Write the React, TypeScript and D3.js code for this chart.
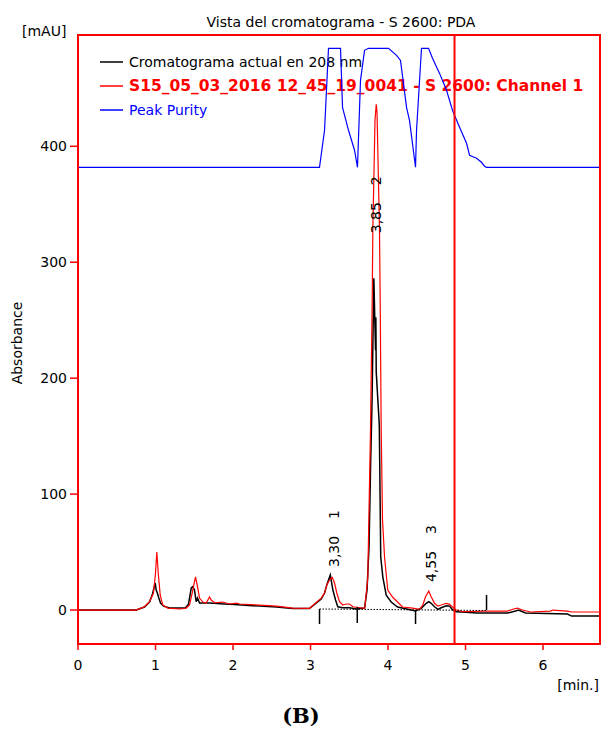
import React from "react";
import * as d3 from "d3";

// ---------- data ----------
const xTicks = [0, 1, 2, 3, 4, 5, 6];
const yTicks = [0, 100, 200, 300, 400];
const timeDomain = [0, 6.735];
const absDomain = [-29.3, 496];

// Black: "Cromatograma actual en 208 nm"
const blackTimes = [0, 0.751, 0.858, 0.923, 0.961, 0.996, 1.009, 1.019, 1.043, 1.065, 1.103, 1.181, 1.387, 1.426, 1.461, 1.481, 1.503, 1.525, 1.542, 1.568, 1.697, 1.89, 2.019, 2.342, 2.561, 2.768, 2.987, 3.138, 3.181, 3.21, 3.255, 3.289, 3.323, 3.352, 3.417, 3.503, 3.59, 3.697, 3.729, 3.755, 3.774, 3.794, 3.813, 3.817, 3.839, 3.843, 3.848, 3.884, 3.888, 3.906, 3.933, 3.977, 4.041, 4.123, 4.299, 4.355, 4.428, 4.493, 4.526, 4.557, 4.6, 4.643, 4.686, 4.751, 4.794, 4.828, 4.88, 5.009, 5.142, 5.542, 5.645, 5.684, 5.774, 6.316, 6.368, 6.735];
const blackValues = [0, 0, 2.6, 6.9, 13.8, 23.3, 17.2, 15.5, 10.3, 6.0, 3.4, 1.7, 1.7, 5.2, 19.0, 20.1, 17.2, 7.2, 10.3, 6.0, 6.0, 5.2, 4.7, 3.4, 2.6, 1.3, 1.3, 9.5, 14.7, 21.6, 30.2, 17.2, 8.6, 2.8, 2.0, 2.0, 0.9, 1.7, 17.2, 54.3, 120.7, 181.0, 267.2, 286.2, 224.1, 252.6, 205.2, 163.8, 157.8, 45.7, 28.4, 12.9, 6.9, 2.6, 0, -0.9, 1.5, 5.8, 7.2, 5.8, 2.8, 0.6, 2.0, 3.7, 3.4, 0.6, -1.5, -2.0, -2.6, -2.6, -0.9, 0, -2.6, -3.4, -5.2, -5.2];

// Red: "S15_05_03_2016 12_45_19_0041 - S 2600: Channel 1"
const redTimes = [0, 0.751, 0.858, 0.923, 0.974, 1.0, 1.017, 1.035, 1.061, 1.094, 1.159, 1.31, 1.396, 1.439, 1.474, 1.499, 1.516, 1.542, 1.568, 1.61, 1.654, 1.697, 1.719, 1.761, 1.865, 1.955, 2.045, 2.084, 2.342, 2.561, 2.768, 2.987, 3.138, 3.181, 3.21, 3.245, 3.28, 3.31, 3.339, 3.374, 3.417, 3.461, 3.503, 3.546, 3.697, 3.703, 3.739, 3.774, 3.796, 3.804, 3.832, 3.848, 3.858, 3.89, 3.899, 3.912, 3.929, 3.955, 3.997, 4.058, 4.123, 4.187, 4.316, 4.406, 4.449, 4.484, 4.526, 4.557, 4.6, 4.643, 4.686, 4.751, 4.794, 4.828, 4.88, 4.965, 5.232, 5.542, 5.619, 5.671, 5.735, 5.839, 6.097, 6.123, 6.316, 6.368, 6.735];
const redValues = [0, 0, 2.8, 7.2, 14.7, 31.9, 50.0, 31.9, 12.9, 4.3, 1.7, 0.9, 1.7, 4.3, 14.7, 23.3, 28.7, 20.1, 10.3, 6.9, 6.0, 11.2, 8.6, 6.3, 6.9, 5.2, 6.0, 5.2, 4.3, 3.4, 1.7, 1.5, 10.3, 14.7, 21.6, 25.9, 28.2, 23.3, 14.7, 7.2, 4.3, 5.2, 5.2, 2.8, 1.5, 3.4, 28.4, 155.2, 267.2, 327.6, 422.4, 436.2, 429.3, 327.6, 267.2, 155.2, 77.6, 45.7, 17.2, 11.2, 6.9, 2.6, 1.7, 0.6, 4.3, 11.5, 16.4, 11.5, 5.8, 3.4, 4.3, 5.8, 4.9, 2.8, 0, -1.5, -0.9, -0.9, 0.9, 1.7, 0, -1.7, -0.9, 0, -0.9, -1.7, -1.7];

// Blue: "Peak Purity"
const purityTimes = [0, 3.116, 3.181, 3.232, 3.387, 3.413, 3.49, 3.568, 3.606, 3.645, 3.697, 3.748, 4.006, 4.11, 4.161, 4.239, 4.277, 4.355, 4.368, 4.432, 4.523, 4.574, 4.665, 4.755, 4.832, 4.923, 5.013, 5.052, 5.142, 5.206, 5.245, 5.271, 6.735];
const purityValues = [381.9, 381.9, 413.8, 484.5, 484.5, 433.6, 413.8, 396.6, 381.9, 456.9, 482.8, 484.5, 484.5, 478.4, 474.1, 433.6, 422.4, 381.9, 413.8, 484.5, 484.5, 475.9, 462.9, 448.3, 431.0, 416.4, 402.6, 392.2, 389.7, 386.2, 382.8, 381.9, 381.9];

// integration markers & baseline
const markerTimes = [3.116, 3.603, 4.355, 5.271];
const markerTops = [0.9, 2.6, 0, 12.9];
const markerBottoms = [-12.1, -11.2, -12.1, 0];
const baselineTimes = [3.116, 5.271];
const baselineValues = [0.9, -0.4];

// peak labels
const peakTimes = [3.3, 3.85, 4.55];
const peakLevels = [37.1, 325, 24.1];
const peakTimeLabels = ["3,30", "3,85", "4,55"];
const peakNumbers = ["1", "2", "3"];

const cursorTime = 4.858;

const legendLabels = [
  "Cromatograma actual en 208 nm",
  "S15_05_03_2016 12_45_19_0041 - S 2600: Channel 1",
  "Peak Purity",
];
const legendColors = ["#000000", "#ff0000", "#0000ff"];

// ---------- layout ----------
const W = 603;
const H = 731;
const left = 78;
const right = 600;
const top = 35;
const bottom = 644;
const FONT = "'DejaVu Sans', Verdana, sans-serif";

export default function App() {
  const x = d3.scaleLinear().domain(timeDomain).range([left, right]);
  const y = d3.scaleLinear().domain(absDomain).range([bottom, top]);
  const line = d3
    .line<[number, number]>()
    .x((d) => x(d[0]))
    .y((d) => y(d[1]));
  const zip = (a: number[], b: number[]) => a.map((t, i) => [t, b[i]] as [number, number]);

  return (
    <svg
      width={W}
      height={H}
      style={{ position: "absolute", left: 0, top: 0, display: "block", background: "#fff" }}
      fontFamily={FONT}
    >
      <rect x={0} y={0} width={W} height={H} fill="#fff" />
      <defs>
        <clipPath id="plot">
          <rect x={left} y={top} width={right - left} height={bottom - top} />
        </clipPath>
      </defs>

      {/* title */}
      <text x={341} y={27} textAnchor="middle" fontSize={14} fill="#000">
        Vista del cromatograma - S 2600: PDA
      </text>
      <text x={22} y={36} fontSize={14} fill="#000">
        [mAU]
      </text>

      {/* legend */}
      {legendLabels.map((lab, i) => (
        <g key={lab}>
          <line x1={100} x2={123} y1={62 + i * 24} y2={62 + i * 24} stroke={legendColors[i]} strokeWidth={1.5} />
          <text
            x={129}
            y={67 + i * 24}
            fontSize={i === 1 ? 15.5 : 14}
            fontWeight={i === 1 ? "bold" : "normal"}
            fill={legendColors[i]}
          >
            {lab}
          </text>
        </g>
      ))}

      <g clipPath="url(#plot)">
        {/* purity */}
        <path d={line(zip(purityTimes, purityValues)) || ""} fill="none" stroke="#0000ff" strokeWidth={1.2} />
        {/* black chromatogram */}
        <path d={line(zip(blackTimes, blackValues)) || ""} fill="none" stroke="#000" strokeWidth={1.5} />
        {/* red chromatogram */}
        <path d={line(zip(redTimes, redValues)) || ""} fill="none" stroke="#ff0000" strokeWidth={1.2} />
        {/* baseline */}
        <path
          d={line(zip(baselineTimes, baselineValues)) || ""}
          fill="none"
          stroke="#000"
          strokeWidth={1}
          strokeDasharray="1.5,1.5"
        />
      </g>
      {/* integration markers */}
      {markerTimes.map((t, i) => (
        <line
          key={"m" + i}
          x1={x(t)}
          x2={x(t)}
          y1={y(markerTops[i])}
          y2={y(markerBottoms[i])}
          stroke="#000"
          strokeWidth={1.5}
        />
      ))}

      {/* peak labels */}
      {peakTimes.map((t, i) => (
        <g key={"p" + i}>
          <text
            transform={`translate(${x(t)},${y(peakLevels[i])}) rotate(-90)`}
            fontSize={14}
            dominantBaseline="central"
            fill="#000"
          >
            {peakTimeLabels[i]}
          </text>
          <text
            transform={`translate(${x(t)},${y(peakLevels[i]) - 48}) rotate(-90)`}
            fontSize={14}
            dominantBaseline="central"
            fill="#000"
          >
            {peakNumbers[i]}
          </text>
        </g>
      ))}

      {/* cursor */}
      <line x1={x(cursorTime)} x2={x(cursorTime)} y1={top} y2={bottom} stroke="#ff0000" strokeWidth={2} />

      {/* frame */}
      <rect x={left} y={top} width={right - left} height={bottom - top} fill="none" stroke="#ff0000" strokeWidth={2} />

      {/* y axis */}
      {yTicks.map((v) => (
        <g key={"y" + v}>
          <line x1={left - 8} x2={left} y1={y(v)} y2={y(v)} stroke="#ff0000" strokeWidth={1.5} />
          <text x={left - 11} y={y(v)} textAnchor="end" dominantBaseline="central" fontSize={14} fill="#000">
            {v}
          </text>
        </g>
      ))}
      <text transform={`translate(22,${343}) rotate(-90)`} textAnchor="middle" fontSize={14} fill="#000">
        Absorbance
      </text>

      {/* x axis */}
      {xTicks.map((t) => (
        <g key={"x" + t}>
          <line x1={x(t)} x2={x(t)} y1={bottom} y2={bottom + 6} stroke="#ff0000" strokeWidth={1.5} />
          <text x={x(t)} y={670} textAnchor="middle" fontSize={14} fill="#000">
            {t}
          </text>
        </g>
      ))}
      <text x={599} y={690} textAnchor="end" fontSize={14} fill="#000">
        [min.]
      </text>

      <text x={301} y={723} textAnchor="middle" fontSize={21} fontWeight="bold" fontFamily="'DejaVu Serif', serif" fill="#000">
        (B)
      </text>
    </svg>
  );
}
